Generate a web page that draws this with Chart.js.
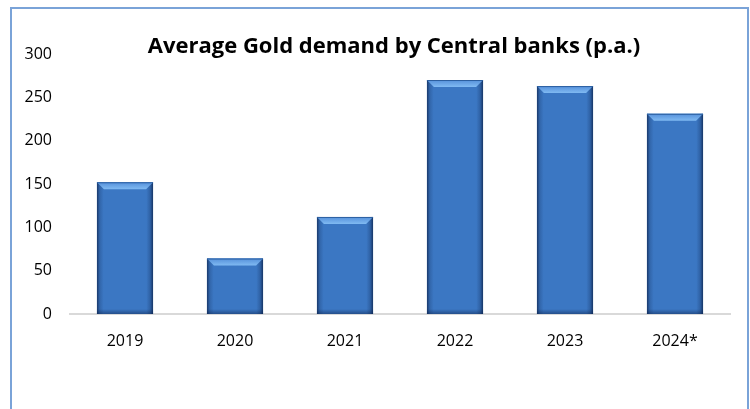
<!DOCTYPE html>
<html lang="en">
  <head>
    <meta charset="UTF-8" />
    <title>Average Gold demand by Central banks</title>
    <script src="https://cdn.jsdelivr.net/npm/chart.js"></script>
    <style>
      body {
        margin: 0;
        padding: 0;
        background-color: #fff;
      }

      #frame {
        position: absolute;
        left: 10px;
        top: 7px;
        width: 735px;
        height: 420px;
        border: 2px solid #7aa3d8;
      }

      #wrap {
        position: absolute;
        left: 0;
        top: 0;
        width: 750px;
        height: 409px;
      }
    </style>
  </head>
  <body>
    <div id="frame"></div>
    <div id="wrap">
      <canvas id="gold-chart" width="750" height="409"></canvas>
    </div>

    <script>
      var years = ["2019", "2020", "2021", "2022", "2023", "2024*"];
      var demand = [152, 64, 112, 270, 263, 231];
      var yTicks = [0, 50, 100, 150, 200, 250, 300];
      var chartTitle = "Average Gold demand by Central banks (p.a.)";

      // title sits inside the plot, like the office chart
      var titlePlugin = {
        id: "insideTitle",
        afterDraw: function (chart) {
          var ctx = chart.ctx;
          ctx.save();
          ctx.font = "bold 22px 'Open Sans'";
          ctx.fillStyle = "#000";
          ctx.textAlign = "center";
          ctx.textBaseline = "middle";
          ctx.fillText(chartTitle, 394, 47);
          ctx.restore();
        },
      };

      // bevel look on each bar, from the bar elements
      var bevelPlugin = {
        id: "bevel",
        afterDatasetsDraw: function (chart) {
          var ctx = chart.ctx;
          var meta = chart.getDatasetMeta(0);
          meta.data.forEach(function (bar) {
            var left = bar.x - bar.width / 2;
            var right = bar.x + bar.width / 2;
            var top = bar.y;
            var bottom = bar.base;
            var w = bar.width;

            ctx.save();
            // side shading
            var g = ctx.createLinearGradient(left, 0, right, 0);
            g.addColorStop(0, "rgba(10,30,70,0.7)");
            g.addColorStop(0.05, "rgba(10,30,70,0.2)");
            g.addColorStop(0.12, "rgba(10,30,70,0)");
            g.addColorStop(0.88, "rgba(10,30,70,0)");
            g.addColorStop(0.95, "rgba(10,30,70,0.25)");
            g.addColorStop(1, "rgba(10,30,70,0.75)");
            ctx.fillStyle = g;
            ctx.fillRect(left, top, w, bottom - top);

            // top bevel
            var b = 7;
            var tg = ctx.createLinearGradient(0, top, 0, top + b);
            tg.addColorStop(0, "#5590da");
            tg.addColorStop(1, "#80baf2");
            ctx.fillStyle = tg;
            ctx.beginPath();
            ctx.moveTo(left, top);
            ctx.lineTo(right, top);
            ctx.lineTo(right - b, top + b);
            ctx.lineTo(left + b, top + b);
            ctx.closePath();
            ctx.fill();

            // bottom edge
            var bg = ctx.createLinearGradient(0, bottom - 5, 0, bottom);
            bg.addColorStop(0, "rgba(10,30,70,0)");
            bg.addColorStop(1, "rgba(10,30,70,0.45)");
            ctx.fillStyle = bg;
            ctx.fillRect(left, bottom - 5, w, 5);

            // top edge line
            ctx.fillStyle = "#2c5fa0";
            ctx.fillRect(left, top, w, 1);
            ctx.restore();
          });
        },
      };

      var ctx = document.getElementById("gold-chart").getContext("2d");
      var goldChart = new Chart(ctx, {
        type: "bar",
        data: {
          labels: years,
          datasets: [
            {
              data: demand,
              backgroundColor: "#3b77c3",
              borderWidth: 0,
              barPercentage: 0.51,
              categoryPercentage: 1,
            },
          ],
        },
        options: {
          responsive: false,
          animation: false,
          layout: {
            padding: { left: 10, right: 20, top: 54, bottom: 35 },
          },
          plugins: {
            legend: { display: false },
            tooltip: { enabled: false },
            title: { display: false },
          },
          scales: {
            x: {
              grid: { display: false, drawTicks: false },
              border: { display: true, color: "#d9d9d9", width: 2 },
              ticks: {
                color: "#000",
                font: { family: "'Open Sans'", size: 16 },
                padding: 18,
              },
              afterFit: function (scale) {
                scale.height = 60;
              },
            },
            y: {
              min: 0,
              max: 300,
              afterBuildTicks: function (scale) {
                scale.ticks = yTicks.map(function (v) {
                  return { value: v };
                });
              },
              grid: { display: false, drawTicks: false },
              border: { display: false },
              ticks: {
                color: "#000",
                font: { family: "'Open Sans'", size: 16 },
                padding: 18,
              },
              afterFit: function (scale) {
                scale.width = 60;
              },
            },
          },
        },
        plugins: [titlePlugin, bevelPlugin],
      });
    </script>
  </body>
</html>
